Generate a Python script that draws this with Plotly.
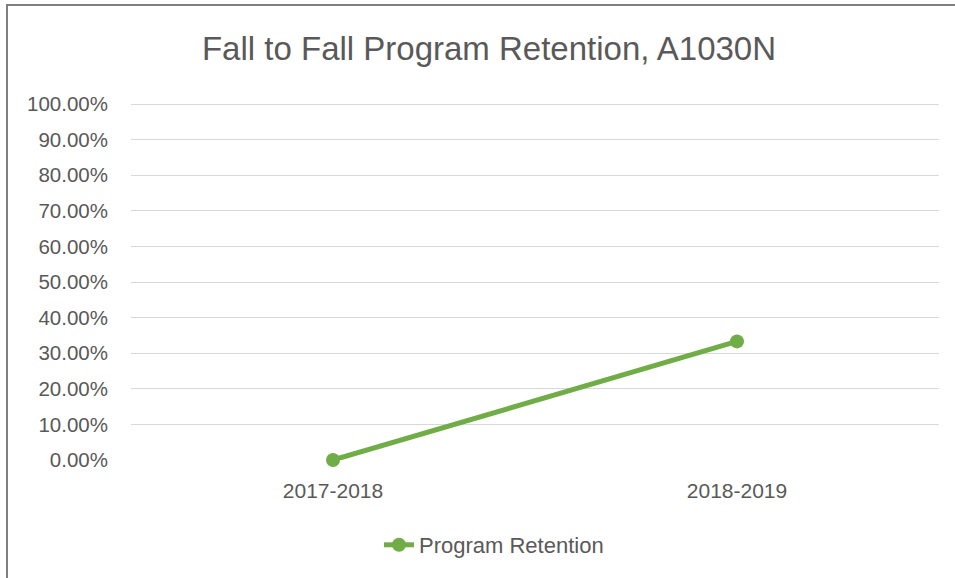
import plotly.graph_objects as go

categories = ["2017-2018", "2018-2019"]
retention = [0.0, 0.3333]
series_name = "Program Retention"
title_text = "Fall to Fall Program Retention, A1030N"
tick_vals = [i / 10 for i in range(11)]
tick_text = [f"{v*100:.2f}%" for v in tick_vals]

W, H = 955, 578
L, R, T, B = 131, 16, 102, 118
pw, ph = W - L - R, H - T - B
YMAX = 1.006

def px_x(p):
    return (p - L) / pw

def px_y(p):
    return (H - B - p) / ph

font_family = "Liberation Sans, Arial, sans-serif"
txt = "#595959"

fig = go.Figure()
fig.add_trace(go.Scatter(
    x=categories, y=retention, mode="lines+markers", name=series_name,
    line=dict(color="#70AD47", width=5),
    marker=dict(color="#70AD47", size=14),
    cliponaxis=False,
))

fig.update_layout(
    width=W, height=H,
    margin=dict(l=L, r=R, t=T, b=B),
    paper_bgcolor="white", plot_bgcolor="white",
    font=dict(family=font_family, color=txt, size=20),
    title=dict(text=title_text, x=489 / W, xref="container", xanchor="center",
               y=1 - 48 / H, yref="container", yanchor="middle",
               font=dict(size=33, color=txt, family=font_family)),
    showlegend=True,
    legend=dict(orientation="h", x=494 / W, xref="container", xanchor="center",
                y=1 - 545 / H, yref="container", yanchor="middle",
                font=dict(size=22, color=txt)),
    xaxis=dict(type="category", range=[-0.5, 1.5], showgrid=False, zeroline=False,
               showline=False, ticks="", ticklabelstandoff=16,
               tickfont=dict(size=21, color=txt)),
    yaxis=dict(range=[0, YMAX], tickvals=tick_vals, ticktext=tick_text,
               showgrid=True, gridcolor="#D9D9D9", gridwidth=1, zeroline=False,
               showline=False, ticks="", ticklabelstandoff=22,
               tickfont=dict(size=20.5, color=txt)),
    shapes=[dict(type="rect", xref="paper", yref="paper",
                 x0=px_x(7), x1=px_x(1100), y0=px_y(5), y1=px_y(700),
                 line=dict(color="#7F7F7F", width=2), fillcolor="rgba(0,0,0,0)",
                 layer="below")],
)

fig.write_html("out.html", config={"displayModeBar": False},
               post_script="document.body.style.margin='0';document.body.style.overflow='hidden';")
